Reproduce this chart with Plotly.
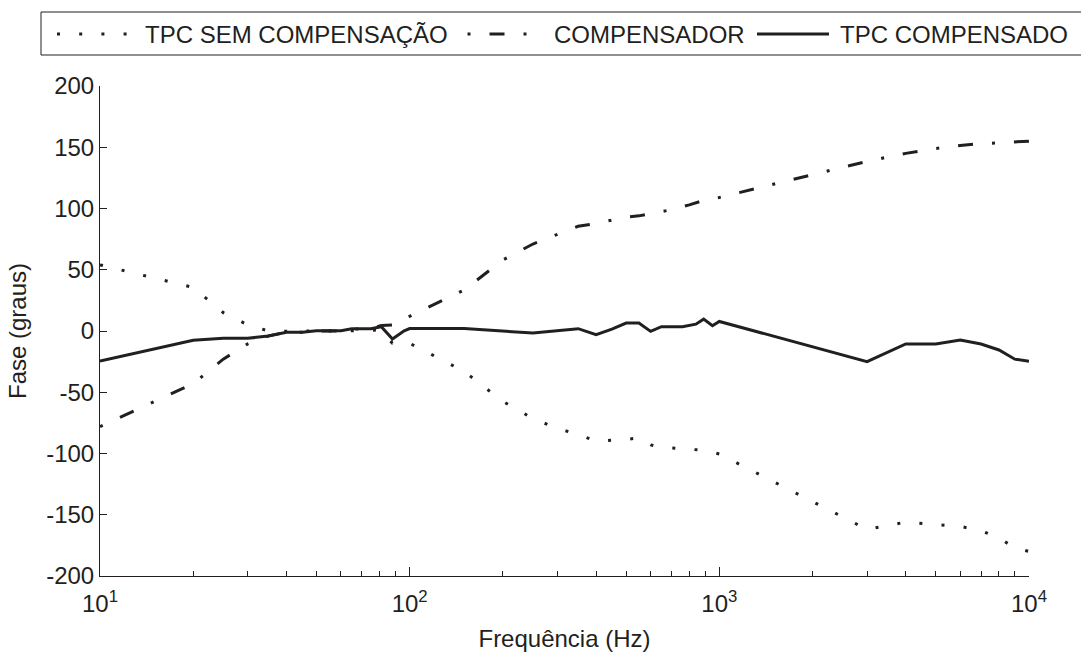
import plotly.graph_objects as go

# ---------------- data ----------------
series_names = ["TPC SEM COMPENSAÇÃO", "COMPENSADOR", "TPC COMPENSADO"]

freq_sem = [10, 20, 25, 30, 35, 40, 50, 60, 80, 88, 100, 150, 200, 250, 300, 350,
            400, 450, 500, 550, 600, 650, 750, 850, 950, 1000,
            3000, 4000, 5000, 6000, 7000, 8000, 9000, 10000]
fase_sem = [54, 35.5, 15, 5, 0, -0.3, 0, 0, 0.8, -10, -10, -33, -57.5, -71.5, -79.5, -84.5,
            -90, -89.3, -88.5, -87.3, -93, -95, -96.3, -97, -99, -100.4,
            -162, -156, -158, -159.5, -163, -169, -177, -180]

freq_cmp = [10, 20, 25, 30, 35, 40, 45, 50, 60, 65, 75, 81, 90, 96, 100, 150, 200, 250,
            350, 400, 450, 500, 550, 600, 700, 800, 900, 1000,
            3000, 4000, 5000, 6000, 7000, 8000, 9000, 10000]
fase_cmp = [-78, -43, -23, -10.5, -4, -1, -1, 0, 0, 1.5, 2, 4.5, 5, 9, 12, 33.5, 58, 71,
            85.5, 87.8, 90.5, 93, 94, 95.8, 99, 103, 107, 109,
            138.5, 145, 149, 151.5, 153, 153.6, 154.2, 155]

freq_tpc = [10, 20, 25, 30, 35, 40, 45, 50, 60, 65, 75, 81, 88, 96, 100, 150, 250,
            350, 400, 450, 500, 550, 600, 650, 760, 840, 890, 950, 1000,
            3000, 4000, 5000, 6000, 7000, 8000, 9000, 10000]
fase_tpc = [-24.5, -7.5, -6, -6, -4, -1, -1, 0.2, 0.2, 1.8, 1.8, 3.5, -6.5, 0.2, 2, 2, -1.7,
            1.9, -3, 1.6, 6.5, 6.5, -0.3, 3.5, 3.5, 5.6, 9.7, 4.3, 7.8,
            -25, -10.6, -10.6, -7.4, -10.6, -15.5, -23, -24.7]

y_tick_vals = [200, 150, 100, 50, 0, -50, -100, -150, -200]
y_tick_text = ["200", "150", "100", "50", "0", "-50", "-100", "-150", "-200"]
x_tick_vals = [10, 100, 1000, 10000]
x_tick_text = ["10<sup>1</sup>", "10<sup>2</sup>", "10<sup>3</sup>", "10<sup>4</sup>"]

x_title = "Frequência (Hz)"
y_title = "Fase (graus)"

# ---------------- styling ----------------
INK = "#231f20"
FONT = "Liberation Sans, Arial, Helvetica, sans-serif"
W, H = 1081, 652
ML, MR, MT, MB = 100, 52, 86, 76
PW, PH = W - ML - MR, H - MT - MB

DOT = "3px,19.2px"
DASHDOT = "3px,19px,15px,19px"
dashes = [DOT, DASHDOT, "solid"]


def px_x(px):
    return (px - ML) / PW


def px_y(py):
    return (H - MB - py) / PH


fig = go.Figure()
for name, fx, fy, dash in [
    (series_names[0], freq_sem, fase_sem, DOT),
    (series_names[1], freq_cmp, fase_cmp, DASHDOT),
    (series_names[2], freq_tpc, fase_tpc, "solid"),
]:
    fig.add_trace(go.Scatter(x=fx, y=fy, mode="lines", name=name, showlegend=False,
                             line=dict(color=INK, width=3, dash=dash)))

# ---- manual legend (box, line samples, labels) ----
shapes = [dict(type="rect", xref="paper", yref="paper",
               x0=px_x(41), x1=px_x(1095), y0=px_y(55), y1=px_y(12),
               line=dict(color=INK, width=1), fillcolor="white", layer="above")]
annotations = []
leg_y = 34
sample_spans = [(57, 136), (467.5, 529), (757, 829)]
text_x = [143, 552, 838]
for i in range(3):
    shapes.append(dict(type="line", xref="paper", yref="paper",
                       x0=px_x(sample_spans[i][0]), x1=px_x(sample_spans[i][1]),
                       y0=px_y(leg_y), y1=px_y(leg_y),
                       line=dict(color=INK, width=3, dash=dashes[i]), layer="above"))
    annotations.append(dict(xref="paper", yref="paper", x=px_x(text_x[i]), y=px_y(leg_y),
                            xanchor="left", yanchor="middle", showarrow=False,
                            text=series_names[i], font=dict(family=FONT, size=24, color=INK)))

fig.update_layout(
    width=W, height=H,
    margin=dict(l=ML, r=MR, t=MT, b=MB, autoexpand=False),
    paper_bgcolor="white", plot_bgcolor="white",
    font=dict(family=FONT, size=24, color=INK),
    showlegend=False,
    shapes=shapes, annotations=annotations,
    xaxis=dict(type="log", range=[1, 4], tickmode="array", tickvals=x_tick_vals,
               ticktext=x_tick_text, ticks="inside", ticklen=9, tickwidth=1, tickcolor=INK,
               ticklabelstandoff=6,
               showline=True, linecolor=INK, linewidth=1, showgrid=False, zeroline=False,
               minor=dict(ticks="inside", ticklen=5, tickwidth=1, tickcolor=INK,
                          dtick="D1", showgrid=False),
               tickfont=dict(family=FONT, size=24, color=INK),
               title=dict(text=x_title, standoff=14,
                          font=dict(family=FONT, size=24, color=INK))),
    yaxis=dict(range=[-200, 200], tickmode="array", tickvals=y_tick_vals,
               ticktext=y_tick_text, ticks="inside", ticklen=7, tickwidth=1, tickcolor=INK,
               showline=True, linecolor=INK, linewidth=1, showgrid=False, zeroline=False,
               tickfont=dict(family=FONT, size=24, color=INK),
               title=dict(text=y_title, standoff=12,
                          font=dict(family=FONT, size=24, color=INK))),
)

fig.write_html("out.html")
